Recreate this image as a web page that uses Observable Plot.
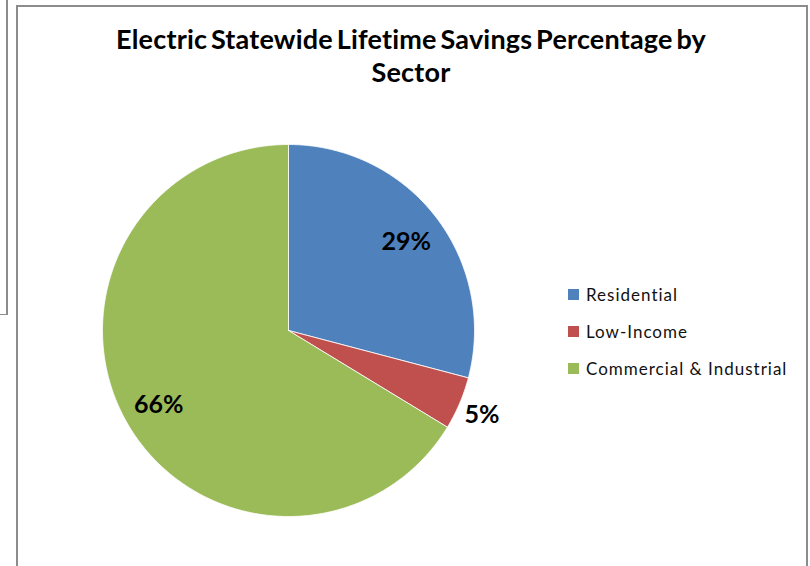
<!DOCTYPE html>
<html>
<head>
<meta charset="utf-8">
<script src="https://cdn.jsdelivr.net/npm/d3@7"></script>
<script src="https://cdn.jsdelivr.net/npm/@observablehq/plot@0.6"></script>
<style>
  html, body { margin: 0; padding: 0; background: #fff; }
  #wrap { position: relative; width: 810px; height: 566px; overflow: hidden; font-family: Lato, "Open Sans", sans-serif; }
  #chart { position: absolute; left: 0; top: 0; }
  .line { position: absolute; background: #8c8c8c; }
  #title { position: absolute; left: 16px; width: 790px; top: 22px; text-align: center; font-weight: bold; font-size: 27px; line-height: 33px; color: #000; letter-spacing: 0.2px; word-spacing: -3px; }
  #legend { position: absolute; left: 568px; top: 286px; }
  .item { position: relative; height: 37px; font-size: 17px; color: #111; letter-spacing: 1px; }
  .sw { position: absolute; left: 0; top: 3px; width: 11px; height: 11px; }
  .lab { position: absolute; left: 18px; top: -1px; line-height: 20px; white-space: nowrap; }
</style>
</head>
<body>
<div id="wrap">
  <div id="chart"></div>
  <div class="line" style="left:6px;top:0;width:1.5px;height:315px;"></div>
  <div class="line" style="left:0;top:313.5px;width:7.5px;height:1.5px;"></div>
  <div class="line" style="left:16px;top:5px;width:1.5px;height:600px;"></div>
  <div class="line" style="left:16px;top:5px;width:791.5px;height:1.5px;"></div>
  <div class="line" style="left:806px;top:5px;width:1.5px;height:600px;"></div>
  <div id="title">Electric Statewide Lifetime Savings Percentage by<br>Sector</div>
  <div id="legend"></div>
</div>
<script>
// Data
const sectors = ["Residential", "Low-Income", "Commercial & Industrial"];
const shares = [29.1, 4.6, 66.3];
const labels = ["29%", "5%", "66%"];
const colors = ["#4F81BD", "#C0504D", "#9BBB59"];

const pie = d3.pie().sort(null)(shares);

// Slice polygons in data space (unit circle), mapped by Plot's x/y scales
const polys = [];
pie.forEach((p, i) => {
  const steps = Math.max(4, Math.ceil((p.endAngle - p.startAngle) / (Math.PI / 360)));
  polys.push({sector: sectors[i], x: 0, y: 0});
  for (let k = 0; k <= steps; k++) {
    const a = p.startAngle + (p.endAngle - p.startAngle) * k / steps;
    polys.push({sector: sectors[i], x: Math.sin(a), y: Math.cos(a)});
  }
  polys.push({sector: sectors[i], x: 0, y: 0});
});

const labelData = pie.map((p, i) => {
  const a = (p.startAngle + p.endAngle) / 2;
  const r = shares[i] < 10 ? 1.13 : 0.8;
  return {text: labels[i], x: r * Math.sin(a), y: r * Math.cos(a)};
});

const chart = Plot.plot({
  width: 810,
  height: 566,
  margin: 0,
  x: {domain: [-1, 1], range: [102, 474], axis: null},
  y: {domain: [-1, 1], range: [516, 144], axis: null},
  color: {domain: sectors, range: colors},
  style: {background: "transparent"},
  marks: [
    Plot.line(polys, {x: "x", y: "y", z: "sector", fill: "sector", stroke: "white", strokeWidth: 1, strokeOpacity: 0.8, curve: "linear"}),
    Plot.text(labelData, {x: "x", y: "y", text: "text", fontSize: 25, fontWeight: "bold", fill: "black", fontFamily: "Lato, sans-serif", dy: 2})
  ]
});
document.getElementById("chart").appendChild(chart);

const legend = document.getElementById("legend");
sectors.forEach((s, i) => {
  const item = document.createElement("div");
  item.className = "item";
  item.innerHTML = `<div class="sw" style="background:${colors[i]}"></div><div class="lab"></div>`;
  item.querySelector(".lab").textContent = s;
  legend.appendChild(item);
});
</script>
</body>
</html>
